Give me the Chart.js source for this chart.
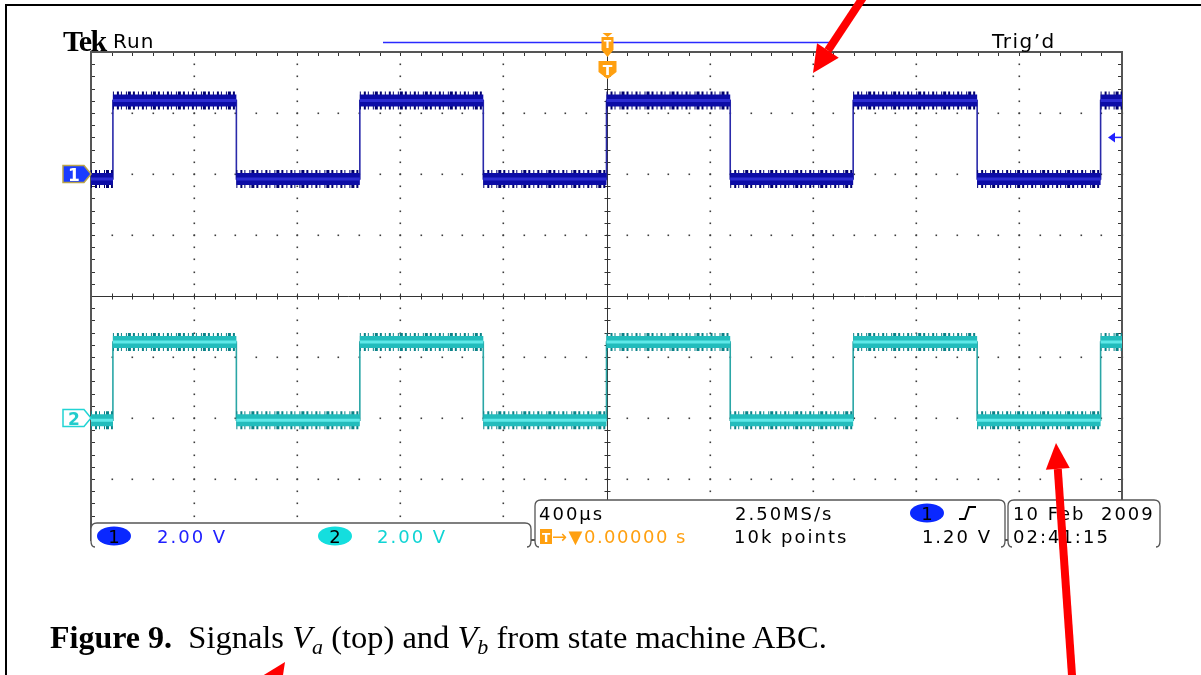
<!DOCTYPE html>
<html>
<head>
<meta charset="utf-8">
<title>Figure 9</title>
<script src="https://cdn.jsdelivr.net/npm/chart.js@4.4.1/dist/chart.umd.min.js"></script>
<style>
  html, body { margin: 0; padding: 0; background: #fff; }
  #wrap { position: relative; width: 1201px; height: 675px; overflow: hidden; }
  #scope { position: absolute; left: 0; top: 0; }
  #caption {
    position: absolute; left: 50px; top: 621px;
    font-family: "Liberation Serif", "Times New Roman", serif;
    font-size: 32.5px; line-height: 32px; color: #000; white-space: nowrap;
  }
  #caption b { font-size: 32px; }
  #caption sub { font-size: 22px; vertical-align: -6px; line-height: 0; }
</style>
</head>
<body>
<div id="wrap">
  <canvas id="scope" width="1201" height="675"></canvas>
  <div id="caption"><b>Figure 9.</b>&nbsp; Signals <i>V<sub>a</sub></i> (top) and <i>V<sub>b</sub></i> from state machine ABC.</div>
</div>
<script>
// screen: 10 div x 400 µs, trigger in the middle; 8 div vertically
const xMin = -2000, xMax = 2000, xMinor = 80;
const xMajorTicks = [-2000, -1600, -1200, -800, -400, 0, 400, 800, 1200, 1600, 2000];
const yMajorTicks = [-4, -3, -2, -1, 0, 1, 2, 3, 4];
const yMinor = 0.2;

// channel setup
const voltsPerDiv = [2.00, 2.00];
const groundDiv = [2, -2];          // where the channel markers sit
const trigLevel = 1.20;             // V, on channel 1

// edge times (µs) and level of each segment (V)
const vaEdges = [-1915, -1436, -957, -478, 0, 480, 957, 1438, 1917];
const vaLevels = [-0.16, 2.41, -0.16, 2.41, -0.16, 2.41, -0.16, 2.41, -0.16, 2.41];
const vbEdges = [-1915, -1436, -957, -478, 0, 480, 957, 1438, 1917];
const vbLevels = [-0.07, 2.49, -0.07, 2.49, -0.07, 2.49, -0.07, 2.49, -0.07, 2.49];

function toDiv(v, ch) {
    return groundDiv[ch] + v / voltsPerDiv[ch];
}

// full trace with vertical edges
function tracePoints(edges, levels, ch) {
    let pts = [{ x: xMin, y: toDiv(levels[0], ch) }];
    edges.forEach((t, i) => {
        pts.push({ x: t, y: toDiv(levels[i], ch) });
        pts.push({ x: t, y: toDiv(levels[i + 1], ch) });
    });
    pts.push({ x: xMax, y: toDiv(levels[levels.length - 1], ch) });
    return pts;
}

// only the flat parts, broken at every edge (drawn thick = noise band)
function bandPoints(edges, levels, ch) {
    const bounds = [xMin, ...edges, xMax];
    let pts = [];
    levels.forEach((v, i) => {
        pts.push({ x: bounds[i], y: toDiv(v, ch) });
        pts.push({ x: bounds[i + 1], y: toDiv(v, ch) });
        pts.push({ x: bounds[i + 1], y: null });
    });
    return pts;
}

const fuzzDash = [1, 3, 2, 2, 1, 4, 1, 1, 3, 2, 2, 3];

function band(data, width, color, order, dash) {
    return {
        data: data,
        borderColor: color,
        borderWidth: width,
        borderCapStyle: "butt",
        borderDash: dash || [],
        pointRadius: 0,
        spanGaps: false,
        tension: 0,
        order: order,
    };
}

const graticule = {
    id: "graticule",
    beforeDatasetsDraw(chart) {
        const { ctx, chartArea: a, scales: { x, y } } = chart;
        ctx.save();
        ctx.fillStyle = "#3c3c3c";
        // dotted major lines
        xMajorTicks.slice(1, -1).forEach((t) => {
            if (t === 0) return;
            const px = Math.round(x.getPixelForValue(t));
            for (let v = yMajorTicks[0]; v <= yMajorTicks[yMajorTicks.length - 1] + 1e-6; v += yMinor) {
                ctx.fillRect(px - 0.5, Math.round(y.getPixelForValue(v)) - 0.5, 1.6, 1.6);
            }
        });
        yMajorTicks.slice(1, -1).forEach((d) => {
            if (d === 0) return;
            const py = Math.round(y.getPixelForValue(d));
            for (let t = xMin; t <= xMax; t += xMinor) {
                ctx.fillRect(Math.round(x.getPixelForValue(t)) - 0.5, py - 0.5, 1.6, 1.6);
            }
        });
        // centre cross with ticks
        const cx = Math.round(x.getPixelForValue(0)) + 0.5;
        const cy = Math.round(y.getPixelForValue(0)) + 0.5;
        ctx.strokeStyle = "#333";
        ctx.lineWidth = 1;
        ctx.beginPath();
        ctx.moveTo(a.left, cy); ctx.lineTo(a.right, cy);
        ctx.moveTo(cx, a.top); ctx.lineTo(cx, a.bottom);
        for (let t = xMin; t <= xMax; t += xMinor) {
            const px = Math.round(x.getPixelForValue(t)) + 0.5;
            ctx.moveTo(px, cy - 3); ctx.lineTo(px, cy + 3);
            ctx.moveTo(px, a.top); ctx.lineTo(px, a.top + 4);
            ctx.moveTo(px, a.bottom); ctx.lineTo(px, a.bottom - 4);
        }
        for (let v = yMajorTicks[0]; v <= yMajorTicks[yMajorTicks.length - 1] + 1e-6; v += yMinor) {
            const py = Math.round(y.getPixelForValue(v)) + 0.5;
            ctx.moveTo(cx - 3, py); ctx.lineTo(cx + 3, py);
            ctx.moveTo(a.left, py); ctx.lineTo(a.left + 4, py);
            ctx.moveTo(a.right, py); ctx.lineTo(a.right - 4, py);
        }
        ctx.stroke();
        // frame
        ctx.strokeStyle = "#555";
        ctx.lineWidth = 2;
        ctx.strokeRect(a.left, a.top, a.right - a.left, a.bottom - a.top);
        ctx.restore();
    },
};

function readoutBox(ctx, x0, y0, x1, y1) {
    const r = 6;
    ctx.beginPath();
    ctx.moveTo(x0 + 4, y1);
    ctx.quadraticCurveTo(x0, y1, x0, y1 - r);
    ctx.lineTo(x0, y0 + r);
    ctx.quadraticCurveTo(x0, y0, x0 + r, y0);
    ctx.lineTo(x1 - r, y0);
    ctx.quadraticCurveTo(x1, y0, x1, y0 + r);
    ctx.lineTo(x1, y1 - r);
    ctx.quadraticCurveTo(x1, y1, x1 - 4, y1);
    ctx.fillStyle = "#fff";
    ctx.fill();
    ctx.strokeStyle = "#555";
    ctx.lineWidth = 1.3;
    ctx.stroke();
}

function pill(ctx, cx, cy, fill, label) {
    ctx.beginPath();
    ctx.ellipse(cx, cy, 17, 9.5, 0, 0, Math.PI * 2);
    ctx.fillStyle = fill;
    ctx.fill();
    ctx.fillStyle = "#000";
    ctx.textAlign = "center";
    ctx.letterSpacing = "0px";
    ctx.fillText(label, cx, cy + 6.5);
    ctx.letterSpacing = "2px";
    ctx.textAlign = "left";
}

function redArrow(ctx, x0, y0, x1, y1, headLen, headW) {
    const ang = Math.atan2(y1 - y0, x1 - x0);
    const bx = x1 - headLen * Math.cos(ang), by = y1 - headLen * Math.sin(ang);
    ctx.strokeStyle = "#ff0000";
    ctx.fillStyle = "#ff0000";
    ctx.lineWidth = 8;
    ctx.beginPath();
    ctx.moveTo(x0, y0);
    ctx.lineTo(bx, by);
    ctx.stroke();
    ctx.beginPath();
    ctx.moveTo(x1, y1);
    ctx.lineTo(bx + headW * Math.sin(ang), by - headW * Math.cos(ang));
    ctx.lineTo(bx - headW * Math.sin(ang), by + headW * Math.cos(ang));
    ctx.closePath();
    ctx.fill();
}

const overlay = {
    id: "overlay",
    afterDraw(chart) {
        const { ctx, chartArea: a, scales: { x, y } } = chart;
        ctx.save();
        const sans = '"DejaVu Sans", Verdana, sans-serif';

        // header
        ctx.fillStyle = "#000";
        ctx.font = 'bold 30px "Liberation Serif", serif';
        ctx.letterSpacing = "-1.5px";
        ctx.fillText("Tek", 63, 51);
        ctx.letterSpacing = "1px";
        ctx.font = "20px " + sans;
        ctx.fillText("Run", 113, 48);
        ctx.letterSpacing = "1.5px";
        ctx.fillText("Trig\u2019d", 992, 48);
        ctx.letterSpacing = "0px";

        // record view bar
        ctx.strokeStyle = "#2a2aff";
        ctx.lineWidth = 1.5;
        ctx.beginPath();
        ctx.moveTo(383, 42.5);
        ctx.lineTo(830, 42.5);
        ctx.stroke();

        // trigger position markers
        const tx = Math.round(x.getPixelForValue(0)) + 0.5;
        ctx.fillStyle = "#ffa010";
        ctx.beginPath();
        ctx.moveTo(tx - 5, 33); ctx.lineTo(tx + 5, 33); ctx.lineTo(tx, 37); ctx.closePath();
        ctx.fill();
        ctx.fillRect(tx - 6, 37, 12, 13);
        ctx.beginPath();
        ctx.moveTo(tx - 6, 50); ctx.lineTo(tx + 6, 50); ctx.lineTo(tx, 57); ctx.closePath();
        ctx.fill();
        ctx.beginPath();
        ctx.moveTo(tx - 9, 61); ctx.lineTo(tx + 9, 61); ctx.lineTo(tx + 9, 72);
        ctx.lineTo(tx, 79); ctx.lineTo(tx - 9, 72); ctx.closePath();
        ctx.fill();
        ctx.fillStyle = "#fff";
        ctx.font = "bold 11px " + sans;
        ctx.textAlign = "center";
        ctx.fillText("T", tx, 48);
        ctx.font = "bold 14px " + sans;
        ctx.fillText("T", tx, 75);
        ctx.textAlign = "left";

        // trigger level arrow on the right
        const ty = y.getPixelForValue(toDiv(trigLevel, 0));
        ctx.strokeStyle = "#2020ff";
        ctx.fillStyle = "#2020ff";
        ctx.lineWidth = 1.5;
        ctx.beginPath();
        ctx.moveTo(1113, ty); ctx.lineTo(a.right, ty);
        ctx.stroke();
        ctx.beginPath();
        ctx.moveTo(1108, ty); ctx.lineTo(1115, ty - 5); ctx.lineTo(1115, ty + 5); ctx.closePath();
        ctx.fill();

        // channel ground markers
        const g1 = y.getPixelForValue(groundDiv[0]);
        const g2 = y.getPixelForValue(groundDiv[1]);
        [[g1, "#1a3cff", "#b9a44a", "1", "#fff"], [g2, "#fff", "#22d4d4", "2", "#22cccc"]].forEach((m) => {
            const gy = m[0];
            ctx.beginPath();
            ctx.moveTo(63, gy - 8.5); ctx.lineTo(84, gy - 8.5); ctx.lineTo(91, gy);
            ctx.lineTo(84, gy + 8.5); ctx.lineTo(63, gy + 8.5); ctx.closePath();
            ctx.fillStyle = m[1];
            ctx.fill();
            ctx.strokeStyle = m[2];
            ctx.lineWidth = 1.5;
            ctx.stroke();
            ctx.fillStyle = m[4];
            ctx.font = "bold 17px " + sans;
            ctx.fillText(m[3], 68, gy + 6.5);
        });

        // readouts
        readoutBox(ctx, 91, 523, 531, 547);
        readoutBox(ctx, 535, 500, 1005, 547);
        readoutBox(ctx, 1008, 500, 1160, 547);

        ctx.font = "18px " + sans;
        ctx.letterSpacing = "2px";
        pill(ctx, 114, 536, "#0a28ff", "1");
        ctx.fillStyle = "#2020ff";
        ctx.fillText(voltsPerDiv[0].toFixed(2) + " V", 157, 543);
        pill(ctx, 335, 536, "#14dede", "2");
        ctx.fillStyle = "#10d4d4";
        ctx.fillText(voltsPerDiv[1].toFixed(2) + " V", 377, 543);

        ctx.fillStyle = "#000";
        ctx.fillText("400\u00b5s", 539, 520);
        ctx.fillText("2.50MS/s", 735, 520);
        ctx.fillText("10k points", 734, 543);
        ctx.textAlign = "right";
        ctx.fillText(trigLevel.toFixed(2) + " V", 992, 543);
        ctx.textAlign = "left";
        pill(ctx, 927, 513, "#0a28ff", "1");
        ctx.strokeStyle = "#000";
        ctx.lineWidth = 2;
        ctx.beginPath();
        ctx.moveTo(959, 519); ctx.lineTo(965, 519); ctx.lineTo(969, 507); ctx.lineTo(976, 507);
        ctx.stroke();

        ctx.fillStyle = "#ffa010";
        ctx.fillRect(540, 529, 12, 15);
        ctx.fillStyle = "#fff";
        ctx.font = "bold 12px " + sans;
        ctx.letterSpacing = "0px";
        ctx.fillText("T", 542, 542);
        ctx.fillStyle = "#ffa010";
        ctx.font = "18px " + sans;
        ctx.letterSpacing = "1.5px";
        ctx.fillText("\u2192\u25bc0.00000 s", 552, 543);

        ctx.fillStyle = "#000";
        ctx.letterSpacing = "2px";
        ctx.fillText("10 Feb  2009", 1013, 520);
        ctx.fillText("02:41:15", 1013, 543);
        ctx.letterSpacing = "0px";

        // page frame
        ctx.fillStyle = "#000";
        ctx.fillRect(5, 4, 1196, 2);
        ctx.fillRect(5, 4, 2, 671);

        // red annotation arrows
        redArrow(ctx, 864, -4, 813, 73, 27, 13);
        redArrow(ctx, 1073, 690, 1056, 443, 26, 12);
        redArrow(ctx, 220, 760, 285, 662, 28, 13);

        ctx.restore();
    },
};

new Chart(document.getElementById("scope"), {
    type: "line",
    data: {
        datasets: [
            band(bandPoints(vaEdges, vaLevels, 0), 3, "#2c2cd2", 1),
            band(bandPoints(vaEdges, vaLevels, 0), 12, "#0c0ca6", 2),
            band(bandPoints(vaEdges, vaLevels, 0), 18, "#00006c", 3, fuzzDash),
            band(tracePoints(vaEdges, vaLevels, 0), 1.6, "#2a2aaa", 4),
            band(bandPoints(vbEdges, vbLevels, 1), 3, "#5ee8e8", 1),
            band(bandPoints(vbEdges, vbLevels, 1), 12, "#22bcbc", 2),
            band(bandPoints(vbEdges, vbLevels, 1), 18, "#0b8288", 3, fuzzDash),
            band(tracePoints(vbEdges, vbLevels, 1), 1.6, "#2aa6a6", 4),
        ],
    },
    options: {
        responsive: false,
        animation: false,
        events: [],
        layout: { padding: { left: 91, top: 52, right: 79, bottom: 135 } },
        plugins: {
            legend: { display: false },
            tooltip: { enabled: false },
        },
        scales: {
            x: { type: "linear", min: xMin, max: xMax, display: false },
            y: { type: "linear", min: yMajorTicks[0], max: yMajorTicks[yMajorTicks.length - 1], display: false },
        },
    },
    plugins: [graticule, overlay],
});
</script>
</body>
</html>
